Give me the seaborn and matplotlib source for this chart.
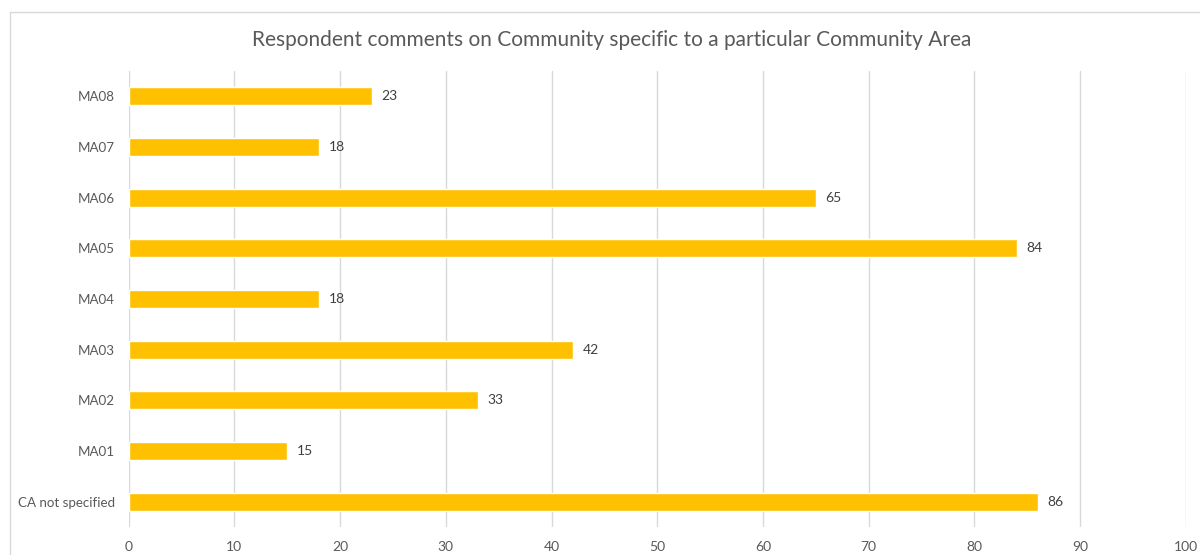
import matplotlib
matplotlib.use("Agg")
import matplotlib.pyplot as plt
import seaborn as sns
import pandas as pd
from matplotlib.patches import Rectangle

areas = ["MA08", "MA07", "MA06", "MA05", "MA04", "MA03", "MA02", "MA01", "CA not specified"]
comments = [23, 18, 65, 84, 18, 42, 33, 15, 86]
x_ticks = [0, 10, 20, 30, 40, 50, 60, 70, 80, 90, 100]

title = "Respondent comments on Community specific to a particular Community Area"

sns.set_theme(style="white")
plt.rcParams["font.family"] = ["Lato", "DejaVu Sans"]

text_grey = "#595959"
bar_gold = "#FFC000"
grid_grey = "#D9D9D9"

df = pd.DataFrame({"area": areas, "comments": comments})

fig = plt.figure(figsize=(12, 5.55), dpi=100)
ax = fig.add_axes([128.7 / 1200, 1 - 527 / 555, (1185.7 - 128.7) / 1200, (527 - 71) / 555])

# chart area border (runs off the right and bottom edges)
fig.add_artist(Rectangle((10 / 1200, -0.1), 1.2, 1 - 12 / 555 + 0.1,
                         transform=fig.transFigure, fill=False,
                         edgecolor="#D9D9D9", linewidth=1.0, zorder=0))

sns.barplot(data=df, x="comments", y="area", order=areas, orient="h",
            color=bar_gold, saturation=1, width=0.35, ax=ax, zorder=3)

ax.set_xlim(0, 100)
ax.set_ylim(len(areas) - 0.5, -0.5)
ax.set_xticks(x_ticks)
ax.set_xticklabels([str(t) for t in x_ticks])
ax.xaxis.grid(True, color=grid_grey, linewidth=1.0, zorder=0)
ax.set_axisbelow(True)
for s in ax.spines.values():
    s.set_visible(False)
ax.set_xlabel("")
ax.set_ylabel("")
ax.tick_params(axis="x", length=0, pad=10, labelsize=10, colors=text_grey)
ax.tick_params(axis="y", length=0, pad=10, labelsize=9.6, colors=text_grey)

for i, v in enumerate(comments):
    ax.annotate(str(v), xy=(v, i), xytext=(7, 0), textcoords="offset points",
                va="center", ha="left", fontsize=10, color="#404040")

fig.text(612 / 1200, 1 - 40 / 555, title, ha="center", va="center",
         fontsize=15, color=text_grey)

fig.savefig("out.png", dpi=100)
